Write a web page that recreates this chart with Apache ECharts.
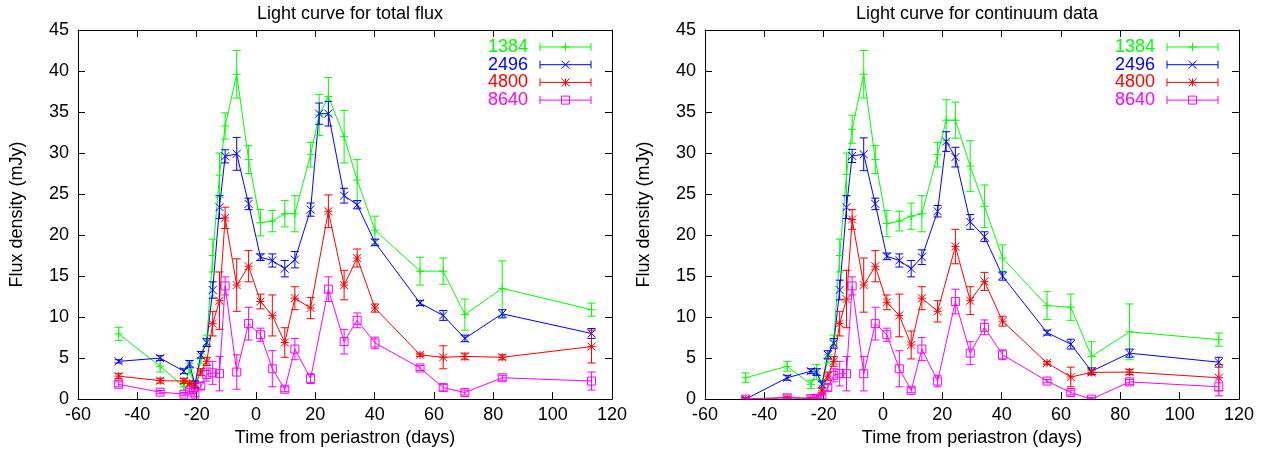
<!DOCTYPE html>
<html>
<head>
<meta charset="utf-8">
<script src="https://cdn.jsdelivr.net/npm/echarts@6/dist/echarts.min.js"></script>
<style>
  html, body { margin: 0; padding: 0; background: #fff; }
  #chart { width: 1278px; height: 452px; }
</style>
</head>
<body>
<div id="chart"></div>
<script>
// Observation epochs (days from periastron); null where a band has no point
const daysTotal = [-46.3, -32.3, -24.3, -22.4, -20.6, -18.6, -16.6, -14.6, -12.3, -10.4, -6.5, -2.5, 1.5, 5.5, 9.7, 13.1, 18.4, 21.3, 24.4, 29.7, 34.1, 40.1, 55.3, 63.1, 70.4, 83.0, 113.1];
const daysCont  = [-46.3, -32.3, -24.3, -22.4, -20.6, -18.6, -16.6, -14.6, -12.3, -10.4, -6.5, -2.6, 1.3, 5.5, 9.5, 13.1, 18.4, 21.3, 24.4, 29.4, 34.2, 40.3, 55.3, 63.3, 70.3, 83.1, 113.2];

// Total flux (mJy) and errors
const total1384 = [7.95, 4.0, 1.5, 3.7, 1.4, 4.9, 7.2, 17.5, 27.3, 33.3, 39.6, 29.2, 21.5, 21.7, 22.6, 22.6, 29.8, 34.65, 36.9, 32.0, 26.7, 20.6, 15.6, 15.6, 10.3, 13.5, 10.9];
const totalErr1384 = [0.8, 0.7, 0.5, 0.6, 0.5, 0.6, 0.6, 2.0, 2.7, 1.6, 2.9, 1.7, 1.6, 1.3, 1.6, 2.2, 1.5, 2.5, 2.3, 3.2, 2.5, 1.7, 1.7, 1.6, 1.9, 3.35, 0.8];
const total2496 = [4.6, 5.0, 3.4, 4.3, 1.8, 5.4, 6.9, 13.3, 23.4, 29.6, 29.9, 23.8, 17.3, 16.9, 15.9, 17.0, 23.1, 34.8, 34.8, 24.8, 23.7, 19.1, 11.7, 10.2, 7.4, 10.4, 8.0];
const totalErr2496 = [0.2, 0.3, 0.3, 0.4, 0.4, 0.4, 0.5, 1.0, 1.4, 0.8, 2.0, 0.7, 0.4, 0.8, 1.0, 1.0, 0.8, 1.3, 1.5, 0.9, 0.5, 0.4, 0.3, 0.6, 0.4, 0.5, 0.6];
const total4800 = [2.8, 2.25, 2.2, 1.9, 1.6, 3.3, 4.6, 9.2, 12.0, 22.1, 13.9, 16.2, 11.9, 10.2, 6.9, 12.3, 11.1, null, 22.9, 13.9, 17.2, 11.1, 5.4, 5.1, 5.2, 5.1, 6.4];
const totalErr4800 = [0.3, 0.3, 0.3, 0.3, 0.3, 0.4, 0.5, 1.5, 3.5, 1.3, 3.2, 1.9, 0.9, 2.5, 1.8, 1.4, 1.3, null, 2.0, 1.8, 1.1, 0.5, 0.2, 1.4, 0.4, 0.3, 2.0];
const total8640 = [1.8, 0.85, 0.6, 1.0, 0.6, 1.6, 3.0, 3.2, 3.1, 13.8, 3.3, 9.2, 7.85, 3.7, 1.2, 6.1, 2.5, null, 13.4, 7.0, 9.6, 6.85, 3.8, 1.4, 0.8, 2.6, 2.2];
const totalErr8640 = [0.3, 0.2, 0.2, 0.3, 0.3, 0.4, 0.8, 1.4, 2.1, 1.1, 2.1, 2.0, 0.8, 2.2, 0.3, 1.3, 0.6, null, 1.5, 1.5, 0.9, 0.7, 0.3, 0.4, 0.3, 0.3, 1.1];

// Continuum flux (mJy) and errors
const cont1384 = [2.6, 4.0, 1.8, 3.3, 1.7, 4.9, 7.2, 17.5, 27.4, 32.9, 39.6, 29.2, 21.4, 21.7, 22.3, 22.6, 29.8, 34.0, 34.0, 28.4, 23.5, 17.2, 11.4, 11.2, 5.2, 8.2, 7.25];
const contErr1384 = [0.6, 0.6, 0.5, 0.9, 0.4, 0.5, 0.6, 2.0, 2.6, 1.7, 2.9, 1.7, 1.6, 1.2, 1.6, 2.2, 1.5, 2.5, 2.2, 3.1, 2.6, 1.6, 1.7, 1.6, 1.8, 3.4, 0.8];
const cont2496 = [0.0, 2.6, 3.4, 3.3, 1.8, 5.4, 6.8, 13.3, 23.4, 29.65, 29.85, 23.8, 17.4, 16.9, 15.9, 17.3, 22.9, 31.4, 29.5, 21.6, 19.8, 15.0, 8.1, 6.7, 3.4, 5.6, 4.5];
const contErr2496 = [0.2, 0.3, 0.3, 0.4, 0.4, 0.5, 0.6, 1.2, 1.4, 0.8, 2.0, 0.7, 0.4, 0.8, 1.0, 0.9, 0.7, 1.2, 1.2, 0.9, 0.6, 0.5, 0.3, 0.6, 0.4, 0.5, 0.6];
const cont4800 = [0.0, 0.2, 0.1, 0.1, 1.0, 2.8, 4.6, 9.2, 12.2, 21.9, 13.9, 16.2, 11.8, 10.2, 6.6, 12.3, 10.7, null, 18.6, 12.0, 14.35, 9.5, 4.4, 2.7, 3.25, 3.3, 2.6];
const contErr4800 = [0.1, 0.1, 0.1, 0.1, 0.4, 0.5, 0.6, 1.5, 3.5, 1.2, 3.3, 1.9, 0.9, 2.6, 1.7, 1.4, 1.3, null, 2.1, 1.7, 1.1, 0.6, 0.2, 1.2, 0.3, 0.3, 1.6];
const cont8640 = [0.0, 0.15, 0.05, 0.1, 0.3, 1.4, 2.9, 3.1, 3.1, 13.8, 3.1, 9.2, 7.85, 3.7, 1.07, 6.1, 2.2, null, 11.9, 5.6, 8.75, 5.4, 2.2, 0.8, 0.0, 2.1, 1.5];
const contErr8640 = [0.1, 0.1, 0.1, 0.1, 0.2, 0.4, 0.8, 1.5, 2.1, 1.1, 2.1, 2.0, 0.8, 2.2, 0.3, 1.4, 0.7, null, 1.5, 1.4, 0.9, 0.6, 0.2, 0.3, 0.2, 0.3, 1.1];

// Band names and plot colours
const bands = ['1384', '2496', '4800', '8640'];
const bandColors = ['#00ff00', '#0000ff', '#ff0000', '#ff00ff'];
const bandShapes = ['plus', 'cross', 'star', 'square'];

const xTicks = { min: -60, max: 120, interval: 20 };
const yTicks = { min: 0, max: 45, interval: 5 };

const FONT = '"Liberation Sans", Arial, Helvetica, sans-serif';
const FS = 18;   // text size
const CAP = 4;   // half width of error bar caps (px)
const MK = 4;    // half size of point markers (px)

// Point marker shapes in the style of classic plotting programs
function markerShapes(shape, cx, cy, color) {
  const st = { stroke: color, lineWidth: 1, fill: null };
  const line = (x1, y1, x2, y2) => ({ type: 'line', shape: { x1, y1, x2, y2 }, style: st });
  if (shape === 'plus') {
    return [line(cx - MK, cy, cx + MK, cy), line(cx, cy - MK, cx, cy + MK)];
  }
  if (shape === 'cross') {
    return [line(cx - MK, cy - MK, cx + MK, cy + MK), line(cx - MK, cy + MK, cx + MK, cy - MK)];
  }
  if (shape === 'star') {
    return [line(cx - MK, cy, cx + MK, cy), line(cx, cy - MK, cx, cy + MK),
            line(cx - MK, cy - MK, cx + MK, cy + MK), line(cx - MK, cy + MK, cx + MK, cy - MK)];
  }
  return [{ type: 'rect', shape: { x: cx - MK, y: cy - MK, width: 2 * MK, height: 2 * MK }, style: st }];
}

function errorRenderer(color, shape) {
  return function (params, api) {
    const x = api.value(0), y = api.value(1), e = api.value(2);
    const p = api.coord([x, y]);
    const hi = api.coord([x, y + e]);
    const lo = api.coord([x, y - e]);
    const st = { stroke: color, lineWidth: 1 };
    const children = [
      { type: 'line', shape: { x1: p[0], y1: hi[1], x2: p[0], y2: lo[1] }, style: st },
      { type: 'line', shape: { x1: p[0] - CAP, y1: hi[1], x2: p[0] + CAP, y2: hi[1] }, style: st },
      { type: 'line', shape: { x1: p[0] - CAP, y1: lo[1], x2: p[0] + CAP, y2: lo[1] }, style: st }
    ].concat(markerShapes(shape, p[0], p[1], color));
    return { type: 'group', children };
  };
}

const panels = [
  { title: 'Light curve for total flux', days: daysTotal,
    values: [total1384, total2496, total4800, total8640],
    errors: [totalErr1384, totalErr2496, totalErr4800, totalErr8640] },
  { title: 'Light curve for continuum data', days: daysCont,
    values: [cont1384, cont2496, cont4800, cont8640],
    errors: [contErr1384, contErr2496, contErr4800, contErr8640] }
];

const gridBoxes = [
  { left: 78, top: 30, width: 534, height: 370 },
  { left: 705, top: 30, width: 534, height: 370 }
];

const grid = [], xAxis = [], yAxis = [], series = [], title = [], graphic = [];

panels.forEach((panel, gi) => {
  const g = gridBoxes[gi];
  grid.push(Object.assign({ containLabel: false }, g));
  title.push({
    text: panel.title, left: g.left + g.width / 2, top: 0, textAlign: 'center',
    textStyle: { fontFamily: FONT, fontSize: FS, fontWeight: 'normal', color: '#000' }
  });

  const tickStyle = { show: true, inside: true, length: 7, lineStyle: { color: '#000', width: 1 } };
  const lineStyle = { show: true, onZero: false, lineStyle: { color: '#000', width: 1 } };
  // bottom axis with labels, top mirror axis with ticks only
  xAxis.push({
    gridIndex: gi, type: 'value', min: xTicks.min, max: xTicks.max, interval: xTicks.interval,
    position: 'bottom', axisLine: lineStyle, axisTick: tickStyle, splitLine: { show: false },
    axisLabel: { fontFamily: FONT, fontSize: FS, color: '#000', margin: 7 },
    name: 'Time from periastron (days)', nameLocation: 'middle', nameGap: 29,
    nameTextStyle: { fontFamily: FONT, fontSize: FS, color: '#000' }
  });
  xAxis.push({
    gridIndex: gi, type: 'value', min: xTicks.min, max: xTicks.max, interval: xTicks.interval,
    position: 'top', axisLine: lineStyle, axisTick: tickStyle, splitLine: { show: false },
    axisLabel: { show: false }
  });
  yAxis.push({
    gridIndex: gi, type: 'value', min: yTicks.min, max: yTicks.max, interval: yTicks.interval,
    position: 'left', axisLine: lineStyle, axisTick: tickStyle, splitLine: { show: false },
    axisLabel: { fontFamily: FONT, fontSize: FS, color: '#000', margin: 9 },
    name: 'Flux density (mJy)', nameLocation: 'middle', nameGap: 52, nameRotate: 90,
    nameTextStyle: { fontFamily: FONT, fontSize: FS, color: '#000' }
  });
  yAxis.push({
    gridIndex: gi, type: 'value', min: yTicks.min, max: yTicks.max, interval: yTicks.interval,
    position: 'right', axisLine: lineStyle, axisTick: tickStyle, splitLine: { show: false },
    axisLabel: { show: false }
  });

  bands.forEach((band, bi) => {
    const color = bandColors[bi];
    const pts = [], errPts = [];
    panel.days.forEach((d, i) => {
      const v = panel.values[bi][i];
      if (v === null) return;
      pts.push([d, v]);
      errPts.push([d, v, panel.errors[bi][i]]);
    });
    series.push({
      type: 'line', name: band, xAxisIndex: gi * 2, yAxisIndex: gi * 2,
      data: pts, showSymbol: false, symbol: 'none', silent: true, animation: false,
      lineStyle: { color, width: 1 }, z: 2, clip: true
    });
    series.push({
      type: 'custom', xAxisIndex: gi * 2, yAxisIndex: gi * 2,
      data: errPts, renderItem: errorRenderer(color, bandShapes[bi]),
      silent: true, animation: false, z: 3, clip: true
    });

    // key entry in the upper right corner
    const ky = 47 + bi * 17.7;
    const kx0 = g.left + g.width - 72, kx1 = g.left + g.width - 21;
    const kmid = (kx0 + kx1) / 2;
    const st = { stroke: color, lineWidth: 1 };
    graphic.push({
      type: 'text', x: g.left + g.width - 84, y: ky, silent: true,
      style: { text: band, fill: color, font: FS + 'px ' + FONT, textAlign: 'right', textVerticalAlign: 'middle' }
    });
    graphic.push({ type: 'line', shape: { x1: kx0, y1: ky, x2: kx1, y2: ky }, style: st, silent: true });
    graphic.push({ type: 'line', shape: { x1: kx0, y1: ky - CAP, x2: kx0, y2: ky + CAP }, style: st, silent: true });
    graphic.push({ type: 'line', shape: { x1: kx1, y1: ky - CAP, x2: kx1, y2: ky + CAP }, style: st, silent: true });
    markerShapes(bandShapes[bi], kmid, ky, color).forEach(m => {
      graphic.push(Object.assign({ silent: true }, m));
    });
  });
});

const chart = echarts.init(document.getElementById('chart'), null, { renderer: 'canvas' });
chart.setOption({
  backgroundColor: '#fff',
  animation: false,
  title, grid, xAxis, yAxis, series, graphic
});
</script>
</body>
</html>
